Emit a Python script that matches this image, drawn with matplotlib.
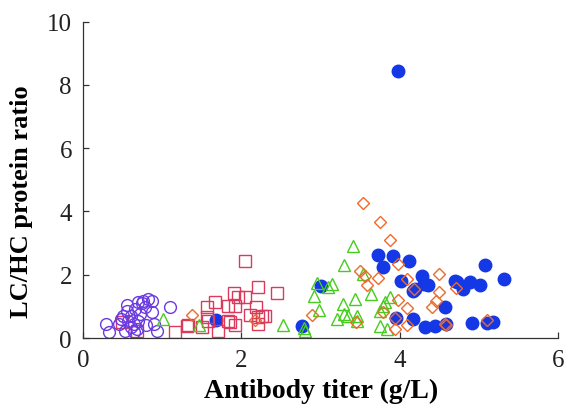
import matplotlib
matplotlib.use('Agg')
import matplotlib.pyplot as plt

# titer (g/L) and LC/HC ratio for each series
purple_x = [0.29, 0.33, 0.45, 0.51, 0.53, 0.55, 0.57, 0.61, 0.64, 0.66, 0.70, 0.72, 0.76, 0.78,
            0.87, 0.87, 0.89, 0.93, 1.10, 0.64, 0.48, 0.60, 0.70, 0.80, 0.55, 0.75, 0.68, 0.82]
purple_y = [0.46, 0.18, 0.46, 0.70, 0.23, 1.05, 0.54, 0.70, 0.44, 0.92, 1.13, 0.76, 1.18, 0.97,
            1.18, 0.81, 0.44, 0.23, 0.97, 0.18, 0.60, 0.35, 0.55, 0.40, 0.85, 1.10, 0.28, 1.25]

red_x = [2.05, 2.21, 2.45, 1.90, 1.96, 2.04, 1.83, 1.92, 2.19, 1.67, 1.56, 2.11, 2.26, 2.21,
         1.92, 1.83, 1.71, 1.50, 1.33, 1.16, 1.58, 0.68, 1.31, 0.49, 2.30, 1.56, 2.21, 1.86]
red_y = [2.44, 1.60, 1.41, 1.41, 1.29, 1.29, 1.02, 1.02, 0.97, 1.13, 0.97, 0.73, 0.70, 0.44,
         0.41, 0.55, 0.23, 0.34, 0.41, 0.18, 0.55, 0.23, 0.39, 0.50, 0.69, 0.65, 0.65, 0.50]

green_x = [1.01, 1.46, 2.52, 2.80, 3.41, 3.30, 2.95, 3.14, 3.09, 2.92, 2.98, 3.28, 3.43, 3.64,
           3.54, 3.21, 3.30, 3.35, 3.46, 3.46, 3.75, 3.84, 3.75, 3.81, 3.88, 3.79, 2.79]
green_y = [0.60, 0.41, 0.41, 0.23, 2.92, 2.31, 1.74, 1.71, 1.60, 1.34, 0.89, 1.07, 1.23, 1.39,
           2.02, 0.60, 0.76, 0.69, 0.70, 0.55, 0.39, 0.28, 0.86, 1.13, 1.29, 1.00, 0.33]

orange_x = [1.38, 2.17, 3.54, 3.75, 3.88, 3.50, 3.56, 3.72, 3.59, 3.98, 2.89, 3.45, 3.79, 3.98,
            4.09, 3.94, 4.09, 3.94, 4.09, 4.18, 4.49, 4.49, 4.46, 4.40, 4.57, 4.71, 4.58, 5.10]
orange_y = [0.72, 0.57, 4.26, 3.67, 3.10, 2.13, 1.97, 1.89, 1.67, 2.34, 0.73, 0.50, 0.83, 1.21,
            0.94, 0.62, 0.41, 0.28, 1.86, 1.55, 2.02, 1.44, 1.18, 0.97, 0.44, 1.57, 0.41, 0.58]

blue_x = [3.98, 1.68, 3.01, 2.76, 3.73, 3.91, 4.11, 3.79, 4.02, 4.28, 4.30, 4.17, 3.95, 4.17,
          4.32, 4.36, 4.19, 4.57, 4.44, 4.70, 5.08, 5.31, 4.72, 4.80, 4.89, 5.01, 4.58, 4.91,
          5.10, 5.18]
blue_y = [8.44, 0.57, 1.65, 0.39, 2.63, 2.60, 2.44, 2.23, 1.81, 1.95, 1.71, 1.50, 0.62, 0.60,
          0.34, 1.67, 1.55, 0.97, 0.37, 1.81, 2.31, 1.86, 1.76, 1.55, 1.76, 1.67, 0.44, 0.47,
          0.47, 0.52]

plt.rcParams['font.family'] = ['Liberation Serif', 'DejaVu Serif']

fig = plt.figure(figsize=(5.65, 4.1), dpi=100)
ax = fig.add_axes([0.147, 0.173, 0.841, 0.772])

# filled circles sit underneath the open markers
ax.plot(blue_x, blue_y, 'o', ms=9, mfc='#1438e6', mec='#1438e6', ls='none')
ax.plot(red_x, red_y, 's', ms=8.3, mfc='none', mec='#dc3a5c', mew=1.0, ls='none')
ax.plot(purple_x, purple_y, 'o', ms=8.5, mfc='none', mec='#6a3be0', mew=1.0, ls='none')
ax.plot(green_x, green_y, '^', ms=8.5, mfc='none', mec='#46cc1c', mew=1.0, ls='none')
ax.plot(orange_x, orange_y, 'D', ms=6.5, mfc='none', mec='#ec6a2c', mew=1.0, ls='none')

ax.set_xlim(0, 6)
ax.set_ylim(0, 10)
ax.set_xticks([0, 2, 4, 6])
ax.set_yticks([0, 2, 4, 6, 8, 10])
ax.spines['top'].set_visible(False)
ax.spines['right'].set_visible(False)
for s in ('left', 'bottom'):
    ax.spines[s].set_linewidth(0.9)
    ax.spines[s].set_color('#333333')
ax.tick_params(direction='in', length=4, width=0.9, labelsize=18, pad=8, colors='#333333')
ax.tick_params(labelcolor='#222222')

ax.set_xlabel('Antibody titer (g/L)', fontsize=20, fontweight='bold', labelpad=5)
ax.set_ylabel('LC/HC protein ratio', fontsize=19, fontweight='bold')
ax.yaxis.set_label_coords(-0.105, 0.433)

fig.savefig('out.png', dpi=100)
